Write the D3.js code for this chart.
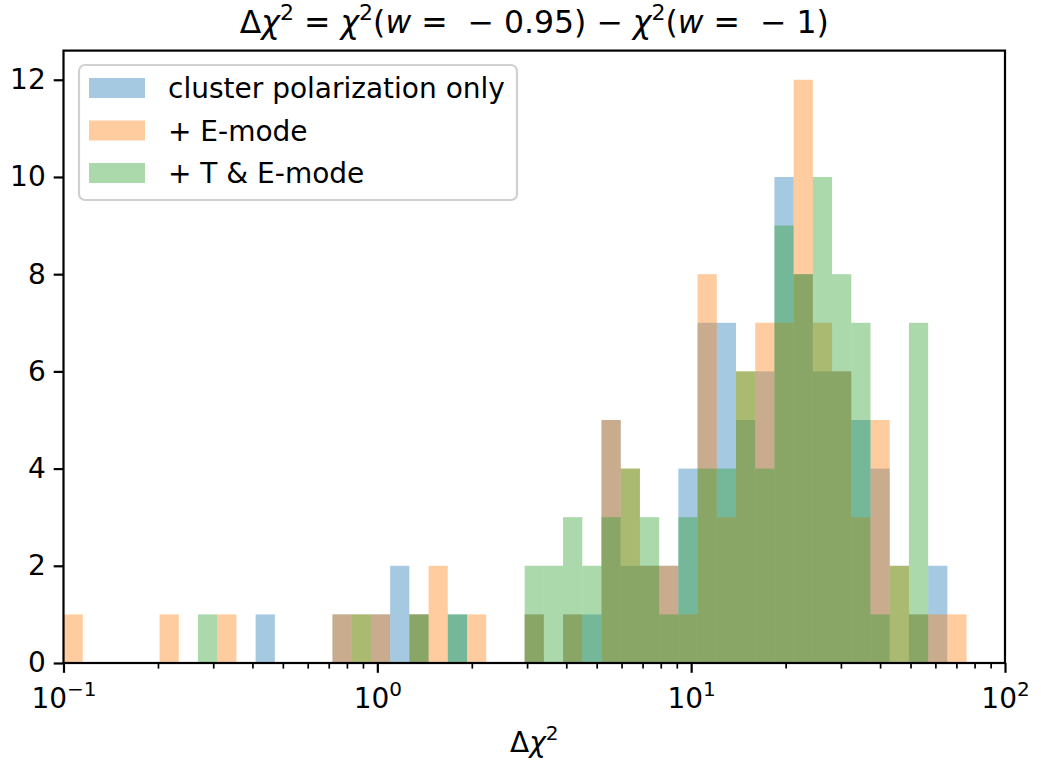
<!DOCTYPE html>
<html>
<head>
<meta charset="utf-8">
<script src="https://cdn.jsdelivr.net/npm/d3@7"></script>
<style>
  html, body { margin: 0; padding: 0; background: #fff; }
  svg { display: block; }
</style>
</head>
<body>
<script>
// 49 log-spaced bins between 1e-1 and 1e2 (counts per bin)
const nBins = 49;
const xDomain = [0.1, 100];
const yTicks = [0, 2, 4, 6, 8, 10, 12];
const xMajor = [0.1, 1, 10, 100];
const xMajorExp = ["\u22121", "0", "1", "2"];

const seriesNames = ["cluster polarization only", "+ E-mode", "+ T & E-mode"];
const seriesColors = ["#1f77b4", "#ff7f0e", "#2ca02c"];

const countsPol = [0,0,0,0,0,0,0,0,0,0, 1,0,0,0,1,0,1,2,1,0, 1,0,0,0,1,0,1,1,5,2, 2,2,4,7,7,5,6,10,8,6, 6,5,4,0,1,2,0,0,0];
const countsE   = [1,0,0,0,0,1,0,0,1,0, 0,0,0,0,1,1,1,0,1,2, 0,1,0,0,1,0,1,0,5,4, 2,2,1,8,3,6,7,7,12,7, 6,3,5,2,1,1,1,0,0];
const countsTE  = [0,0,0,0,0,0,0,1,0,0, 0,0,0,0,0,1,0,0,1,0, 1,0,0,0,2,2,3,2,3,4, 3,1,3,4,4,6,4,9,8,10, 8,7,1,2,7,0,0,0,0];

const allCounts = [countsPol, countsE, countsTE];

const width = 1041, height = 762;
const margin = {top: 50.6, right: 36, bottom: 99, left: 63.5};
const innerW = width - margin.left - margin.right;
const innerH = height - margin.top - margin.bottom;
const font = "'DejaVu Sans', sans-serif";
const fs = 28;

const svg = d3.select("body").append("svg")
  .attr("width", width).attr("height", height)
  .style("font-family", font);

const x = d3.scaleLog().domain(xDomain).range([0, innerW]);
const y = d3.scaleLinear().domain([0, 12.6]).range([innerH, 0]);

const logMin = Math.log10(xDomain[0]), logMax = Math.log10(xDomain[1]);
const edges = d3.range(nBins + 1).map(i => Math.pow(10, logMin + (logMax - logMin) * i / nBins));

const g = svg.append("g").attr("transform", `translate(${margin.left},${margin.top})`);

// histogram bars, drawn in series order with alpha 0.4
allCounts.forEach((counts, s) => {
  g.append("g").selectAll("rect")
    .data(counts.map((c, i) => ({c, x0: edges[i], x1: edges[i + 1]})).filter(d => d.c > 0))
    .join("rect")
    .attr("x", d => x(d.x0))
    .attr("width", d => x(d.x1) - x(d.x0))
    .attr("y", d => y(d.c))
    .attr("height", d => innerH - y(d.c))
    .attr("fill", seriesColors[s])
    .attr("fill-opacity", 0.4);
});

// y axis
const yAxis = g.append("g")
  .call(d3.axisLeft(y).tickValues(yTicks).tickSize(9.8).tickPadding(8));
yAxis.select(".domain").remove();
yAxis.selectAll("line").attr("stroke", "#000").attr("stroke-width", 2.2);
yAxis.selectAll("text").attr("font-size", fs).attr("font-family", font).attr("fill", "#000");

// x axis, minor ticks
const minor = [];
for (let d = 0.1; d < 100; d *= 10) for (let k = 2; k <= 9; k++) minor.push(d * k);
const xMin = g.append("g").attr("transform", `translate(0,${innerH})`)
  .call(d3.axisBottom(x).tickValues(minor).tickSize(5.6).tickFormat(""));
xMin.select(".domain").remove();
xMin.selectAll("line").attr("stroke", "#000").attr("stroke-width", 1.7);

// x axis, major ticks with 10^k labels
const xAx = g.append("g").attr("transform", `translate(0,${innerH})`)
  .call(d3.axisBottom(x).tickValues(xMajor).tickSize(9.8).tickFormat(""));
xAx.select(".domain").remove();
xAx.selectAll("line").attr("stroke", "#000").attr("stroke-width", 2.2);
xAx.selectAll(".tick").each(function(d, i) {
  const t = d3.select(this).append("text")
    .attr("y", 45).attr("fill", "#000").attr("font-size", fs)
    .attr("font-family", font).attr("text-anchor", "middle");
  t.append("tspan").text("10");
  t.append("tspan").attr("dy", -12).attr("font-size", 20).text(xMajorExp[i]);
});

// frame
g.append("rect").attr("width", innerW).attr("height", innerH)
  .attr("fill", "none").attr("stroke", "#000").attr("stroke-width", 2.2);

// x label
const xl = svg.append("text")
  .attr("x", margin.left + innerW / 2).attr("y", 752)
  .attr("text-anchor", "middle").attr("font-size", fs).attr("fill", "#000");
xl.append("tspan").text("\u0394");
xl.append("tspan").attr("font-style", "italic").text("\u03c7");
xl.append("tspan").attr("dy", -12).attr("font-size", 20).text("2");

// title
const title = svg.append("text")
  .attr("x", margin.left + innerW / 2).attr("y", 33)
  .attr("text-anchor", "middle").attr("font-size", 31.5).attr("fill", "#000");
const parts = [
  ["\u0394", ""], ["\u03c7", "i"], ["2", "s"], [" = ", ""], ["\u03c7", "i"], ["2", "s"],
  ["(", ""], ["w", "i"], [" =  \u2212 0.95) \u2212 ", ""], ["\u03c7", "i"], ["2", "s"],
  ["(", ""], ["w", "i"], [" =  \u2212 1)", ""]
];
let sup = false;
parts.forEach(([txt, kind]) => {
  const ts = title.append("tspan").text(txt).style("white-space", "pre");
  if (kind === "i") ts.attr("font-style", "italic");
  if (kind === "s") { ts.attr("dy", -13).attr("font-size", 22); sup = true; }
  else if (sup) { ts.attr("dy", 13); sup = false; }
});

// legend
const leg = svg.append("g").attr("transform", "translate(79,65)");
leg.append("rect").attr("width", 438).attr("height", 135)
  .attr("rx", 6).attr("fill", "#fff").attr("fill-opacity", 0.8)
  .attr("stroke", "#d0d0d0").attr("stroke-width", 2.2);
seriesNames.forEach((name, i) => {
  const row = leg.append("g").attr("transform", `translate(0,${23 + i * 42.5})`);
  row.append("rect").attr("x", 10).attr("y", -10).attr("width", 56).attr("height", 20)
    .attr("fill", seriesColors[i]).attr("fill-opacity", 0.4);
  row.append("text").attr("x", 89).attr("y", 10)
    .attr("font-size", fs).attr("fill", "#000").text(name);
});
</script>
</body>
</html>
